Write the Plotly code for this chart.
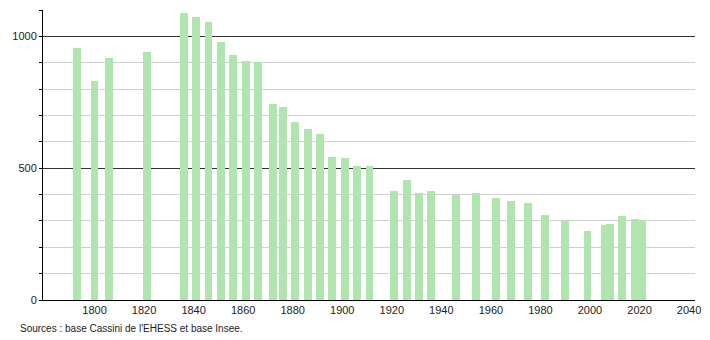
import plotly.graph_objects as go

years = [1793, 1800, 1806, 1821, 1836, 1841, 1846, 1851, 1856, 1861, 1866,
         1872, 1876, 1881, 1886, 1891, 1896, 1901, 1906, 1911, 1921, 1926,
         1931, 1936, 1946, 1954, 1962, 1968, 1975, 1982, 1990, 1999, 2006,
         2008, 2013, 2018, 2021]
population = [955, 831, 917, 941, 1087, 1075, 1053, 978, 930, 907, 902,
              742, 733, 675, 647, 628, 542, 537, 510, 507, 415, 457,
              407, 415, 398, 405, 388, 377, 368, 324, 301, 263, 283,
              287, 320, 307, 305]
x_ticks = [1800, 1820, 1840, 1860, 1880, 1900, 1920, 1940, 1960, 1980, 2000, 2020, 2040]
y_ticks = [0, 500, 1000]
source_text = "Sources : base Cassini de l'EHESS et base Insee."

fig = go.Figure()
fig.add_trace(go.Bar(
    x=years, y=population, width=3.2,
    marker=dict(color="#b0e5b0", line=dict(width=0)),
    hoverinfo="x+y",
))

fig.update_layout(
    width=710, height=340,
    margin=dict(l=43, r=9, t=10, b=40),
    plot_bgcolor="white", paper_bgcolor="white",
    showlegend=False,
    font=dict(family="Liberation Sans, Arial, sans-serif", size=11, color="#222"),
    bargap=0,
)
fig.update_xaxes(
    range=[1779.2, 2042.4],
    tickvals=x_ticks, ticktext=[str(v) for v in x_ticks],
    showgrid=False, zeroline=False,
    showline=True, linecolor="#000", linewidth=1,
    ticks="", ticklen=0,
)
fig.update_yaxes(
    range=[0, 1100],
    tickvals=y_ticks, ticktext=[str(v) for v in y_ticks],
    showgrid=True, gridcolor="#333", gridwidth=1,
    zeroline=False,
    showline=True, linecolor="#000", linewidth=1,
    ticks="outside", ticklen=3, tickcolor="#000",
    minor=dict(dtick=100, tick0=0, showgrid=True, gridcolor="#d0d0d0",
               gridwidth=1, ticks="outside", ticklen=3, tickcolor="#000"),
)
fig.add_annotation(
    text=source_text, xref="paper", yref="paper",
    x=-0.039, y=-0.074, xanchor="left", yanchor="top",
    showarrow=False, font=dict(size=10, color="#222"),
)
fig.write_html("out.html")
